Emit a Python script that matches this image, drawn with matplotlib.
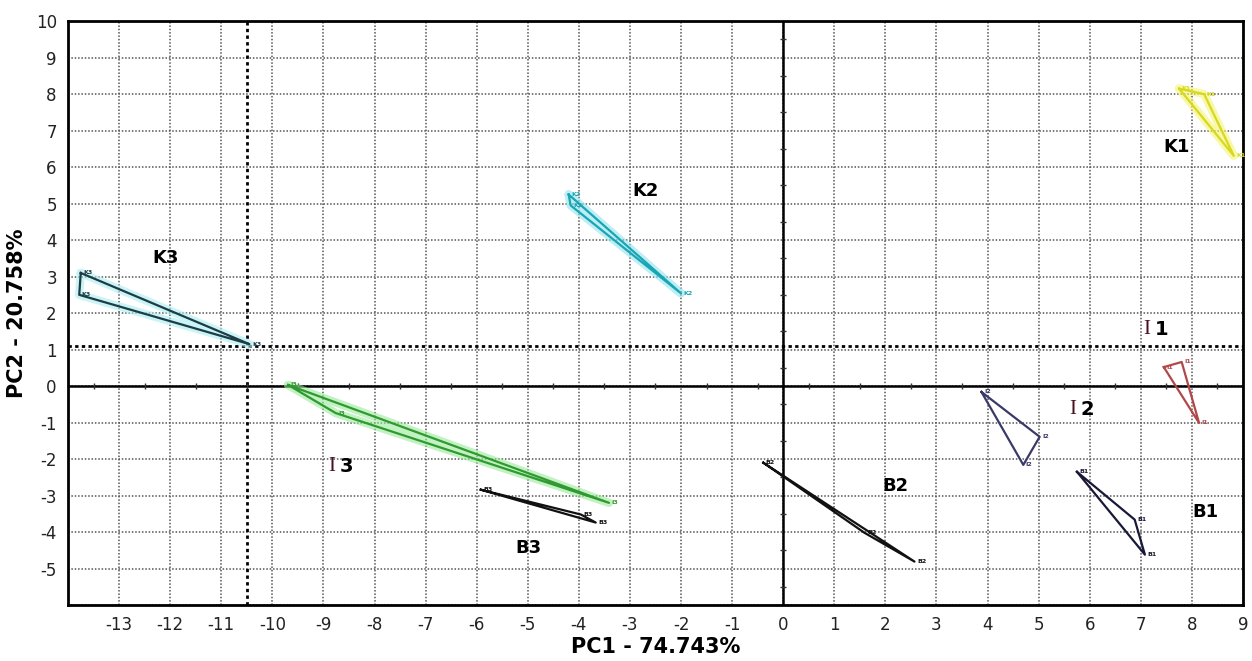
import numpy as np
import matplotlib.pyplot as plt

# PCA scores (PC1, PC2), three replicates per sample
k1_pc1 = [7.75, 8.24, 8.82]
k1_pc2 = [8.15, 8.00, 6.31]
k2_pc1 = [-4.20, -4.16, -2.00]
k2_pc2 = [5.25, 4.95, 2.54]
k3_pc1 = [-13.75, -13.78, -10.45]
k3_pc2 = [3.10, 2.50, 1.15]
i1_pc1 = [7.45, 7.80, 8.14]
i1_pc2 = [0.52, 0.66, -1.01]
i2_pc1 = [3.88, 5.02, 4.70]
i2_pc2 = [-0.16, -1.39, -2.16]
i3_pc1 = [-9.69, -8.76, -3.41]
i3_pc2 = [0.03, -0.74, -3.20]
b1_pc1 = [5.75, 6.88, 7.08]
b1_pc2 = [-2.35, -3.66, -4.62]
b2_pc1 = [-0.39, 1.59, 2.57]
b2_pc2 = [-2.10, -4.02, -4.81]
b3_pc1 = [-5.92, -3.96, -3.67]
b3_pc2 = [-2.84, -3.52, -3.74]

x_ticks = list(range(-13, 10))
y_ticks = list(range(-5, 11))

# group: (x, y, line colour, glow colour, label position)
samples = {
    "K1": (k1_pc1, k1_pc2, "#d8d820", "#f4f470", (7.45, 6.55)),
    "K2": (k2_pc1, k2_pc2, "#1aa5b5", "#90e4ee", (-2.95, 5.35)),
    "K3": (k3_pc1, k3_pc2, "#1d3c46", "#a8eef0", (-12.35, 3.5)),
    "I1": (i1_pc1, i1_pc2, "#b04848", None, (7.05, 1.55)),
    "I2": (i2_pc1, i2_pc2, "#3a3a68", None, (5.6, -0.65)),
    "I3": (i3_pc1, i3_pc2, "#2f9a2f", "#9ae89a", (-8.9, -2.2)),
    "B1": (b1_pc1, b1_pc2, "#181838", None, (8.0, -3.45)),
    "B2": (b2_pc1, b2_pc2, "#111111", None, (1.95, -2.75)),
    "B3": (b3_pc1, b3_pc2, "#111111", None, (-5.25, -4.45)),
}

fig = plt.figure(figsize=(12.52, 6.61), dpi=100)
ax = fig.add_axes([0.0543, 0.0847, 0.9385, 0.8833])
ax.set_xlim(-14, 9)
ax.set_ylim(-6, 10)

# dotted grid at every unit
for xv in range(-14, 10):
    ax.axvline(xv, color="#555555", ls=(0, (1, 1.2)), lw=1.1, zorder=0)
for yv in range(-6, 11):
    ax.axhline(yv, color="#555555", ls=(0, (1, 1.2)), lw=1.1, zorder=0)

# zero axes and heavy dotted reference lines
ax.axhline(0, color="black", lw=1.8, zorder=1)
ax.axvline(0, color="black", lw=1.8, zorder=1)
ax.axvline(-10.5, color="black", ls=(0, (1.2, 1.2)), lw=2.0, zorder=1)
ax.axhline(1.1, color="black", ls=(0, (1.2, 1.2)), lw=2.0, zorder=1)
half = np.arange(-13.5, 9, 1.0)
ax.plot(half, np.zeros_like(half), "|", color="#333333", ms=4, mew=1, zorder=1)
halfy = np.arange(-5.5, 10, 1.0)
ax.plot(np.zeros_like(halfy), halfy, "_", color="#333333", ms=4, mew=1, zorder=1)

for name, (xs, ys, col, glow, (lx, ly)) in samples.items():
    cx = xs + xs[:1]
    cy = ys + ys[:1]
    if glow:
        ax.plot(cx, cy, color=glow, lw=6, alpha=0.6, solid_capstyle="round", zorder=2)
    ax.plot(cx, cy, color=col, lw=1.6, zorder=3)
    for px, py in zip(xs, ys):
        ax.text(px + 0.05, py, name, fontsize=4.5, color=col, fontweight="bold",
                ha="left", va="center", zorder=4)
    if name.startswith("I"):
        ax.text(lx, ly, "I", fontsize=15, family="Liberation Serif", color="#4a1020",
                ha="left", va="center", zorder=5)
        ax.text(lx + 0.22, ly, name[1], fontsize=14, fontweight="bold", color="black",
                ha="left", va="center", zorder=5)
    else:
        ax.text(lx, ly, name, fontsize=13, fontweight="bold", color="black",
                ha="left", va="center", zorder=5)

ax.set_xticks(x_ticks)
ax.set_yticks(y_ticks)
ax.set_xticklabels([str(v) for v in x_ticks], fontsize=12, color="#222222")
ax.set_yticklabels([str(v) for v in y_ticks], fontsize=12, color="#222222")
ax.tick_params(length=0, pad=8)
for s in ax.spines.values():
    s.set_linewidth(2.0)
    s.set_color("black")

ax.set_xlabel("PC1 - 74.743%", fontsize=15, fontweight="bold", labelpad=2)
ax.set_ylabel("PC2 - 20.758%", fontsize=15, fontweight="bold", labelpad=6)

fig.savefig("out.png", dpi=100)
